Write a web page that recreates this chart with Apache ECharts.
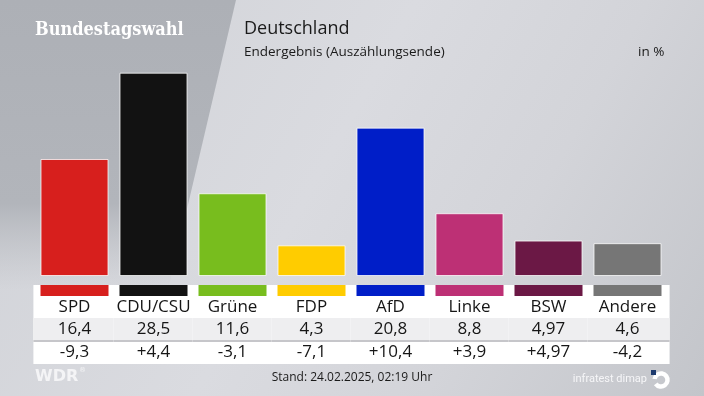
<!DOCTYPE html>
<html><head><meta charset="utf-8">
<script src="https://cdn.jsdelivr.net/npm/echarts@6/dist/echarts.min.js"></script>
<style>html,body{margin:0;padding:0;}#c{width:704px;height:396px;}</style>
</head><body><div id="c"></div>
<script>
var parties = ['SPD','CDU/CSU','Grüne','FDP','AfD','Linke','BSW','Andere'];
var results = [16.4, 28.5, 11.6, 4.3, 20.8, 8.8, 4.97, 4.6];
var changes = [-9.3, 4.4, -3.1, -7.1, 10.4, 3.9, 4.97, -4.2];
var partyColors = ['#d71f1d','#121212','#78bd1e','#ffcc00','#001ec8','#bd3075','#6b1845','#767676'];

function fmt(v){ return String(v).replace('.', ','); }
function fmtSigned(v){ return (v > 0 ? '+' : '') + fmt(v); }

var SANS = '"Open Sans", "Noto Sans", sans-serif';
var chart = echarts.init(document.getElementById('c'), null, {renderer:'canvas'});

var option = {
  animation: false,
  backgroundColor: {
    type: 'linear', x: 0, y: 0, x2: 1, y2: 1,
    colorStops: [
      {offset: 0, color: '#d0d2d7'},
      {offset: 0.45, color: '#dadbe0'},
      {offset: 0.7, color: '#d3d4d9'},
      {offset: 1, color: '#c3c5ca'}
    ]
  },
  graphic: [
    {type: 'polygon', z: -10, silent: true,
      shape: {points: [[0,0],[236,0],[168,290],[0,290]]},
      style: {fill: {type:'linear', x:0, y:0, x2:0, y2:1, colorStops:[
        {offset:0, color:'#adb0b6'},{offset:0.7, color:'#b2b5bb'},{offset:1, color:'rgba(190,192,197,0.0)'}]}}},
    {type: 'text', left: 35, top: 21, z: 5,
      style: {text: 'Bundestagswahl', fill: '#ffffff', font: 'bold 18px "DejaVu Serif Condensed", "DejaVu Serif", serif'}},
    {type: 'text', left: 244, top: 20, z: 5,
      style: {text: 'Deutschland', fill: '#1a1a1a', font: '18px ' + SANS}},
    {type: 'text', left: 244, top: 45, z: 5,
      style: {text: 'Endergebnis (Auszählungsende)', fill: '#1a1a1a', font: '13.5px ' + SANS}},
    {type: 'text', left: 638, top: 45, z: 5,
      style: {text: 'in %', fill: '#1a1a1a', font: '13.5px ' + SANS}},
    {type: 'text', left: 35, top: 369, z: 5,
      style: {text: 'WDR', fill: '#f4f4f6', font: 'bold 16px "DejaVu Sans", sans-serif'}},
    {type: 'text', left: 79, top: 367, z: 5,
      style: {text: '®', fill: '#f4f4f6', font: '7px "DejaVu Sans", sans-serif'}},
    {type: 'text', x: 352, y: 378, z: 5,
      style: {text: 'Stand: 24.02.2025, 02:19 Uhr', fill: '#1a1a1a', font: '12px ' + SANS, align: 'center', verticalAlign: 'middle'}},
    {type: 'text', x: 647, y: 379, z: 5,
      style: {text: 'infratest dimap', fill: '#f6f6f8', font: '11px Roboto, sans-serif', align: 'right', verticalAlign: 'middle'}},
    {type: 'arc', z: 5, shape: {cx: 661, cy: 380, r: 6.5, startAngle: -Math.PI*0.95, endAngle: Math.PI*0.8},
      style: {stroke: '#ffffff', lineWidth: 4.5, fill: null}},
    {type: 'rect', z: 6, shape: {x: 651, y: 370, width: 5, height: 5}, style: {fill: '#1d3a6e'}}
  ],
  grid: [
    {left: 35, width: 632, top: 62, height: 214},
    {left: 35, width: 632, top: 285, height: 79}
  ],
  xAxis: [
    {gridIndex: 0, type: 'category', data: parties, show: false},
    {gridIndex: 1, type: 'category', data: parties, show: false}
  ],
  yAxis: [
    {gridIndex: 0, type: 'value', min: 0, max: 30, show: false},
    {gridIndex: 1, type: 'value', min: 0, max: 1, show: false}
  ],
  series: [
    {type: 'bar', xAxisIndex: 0, yAxisIndex: 0, barWidth: 68,
      data: results.map(function(v, i){ return {value: v, itemStyle: {color: partyColors[i]}}; }),
      itemStyle: {borderColor: 'rgba(255,255,255,0.75)', borderWidth: 1}},
    {type: 'custom', xAxisIndex: 1, yAxisIndex: 1,
      data: parties.map(function(p, i){ return [i, 1]; }),
      renderItem: function(params, api){
        var i = api.value(0);
        var top = api.coord([i, 1]);
        var bot = api.coord([i, 0]);
        var bw = api.size([1, 0])[0];
        var cx = top[0], y0 = top[1], y1 = bot[1];
        var x0 = cx - bw/2 - 0.6, w = bw + 1.2;
        if (i === 0) { x0 -= 1; w += 1; }
        if (i === parties.length - 1) { w += 2; }
        return {type: 'group', children: [
          {type: 'rect', shape: {x: x0, y: y0, width: w, height: y1 - y0}, style: {fill: '#ffffff'}},
          {type: 'rect', shape: {x: x0, y: y0 + 33, width: w, height: 22}, style: {fill: '#eeeef0'}},
          {type: 'rect', shape: {x: x0, y: y0 + 55, width: w, height: 2}, style: {fill: '#c6c6ca'}},
          {type: 'rect', shape: {x: cx - 34, y: y0, width: 68, height: 11}, style: {fill: partyColors[i]}},
          {type: 'text', style: {x: cx, y: y0 + 22.5, text: parties[i], fill: '#161616', font: '17px ' + SANS, align: 'center', verticalAlign: 'middle'}},
          {type: 'text', style: {x: cx, y: y0 + 44, text: fmt(results[i]), fill: '#161616', font: '17px ' + SANS, align: 'center', verticalAlign: 'middle'}},
          {type: 'text', style: {x: cx, y: y0 + 67, text: fmtSigned(changes[i]), fill: '#161616', font: '17px ' + SANS, align: 'center', verticalAlign: 'middle'}}
        ]};
      }}
  ]
};
chart.setOption(option);
</script></body></html>
